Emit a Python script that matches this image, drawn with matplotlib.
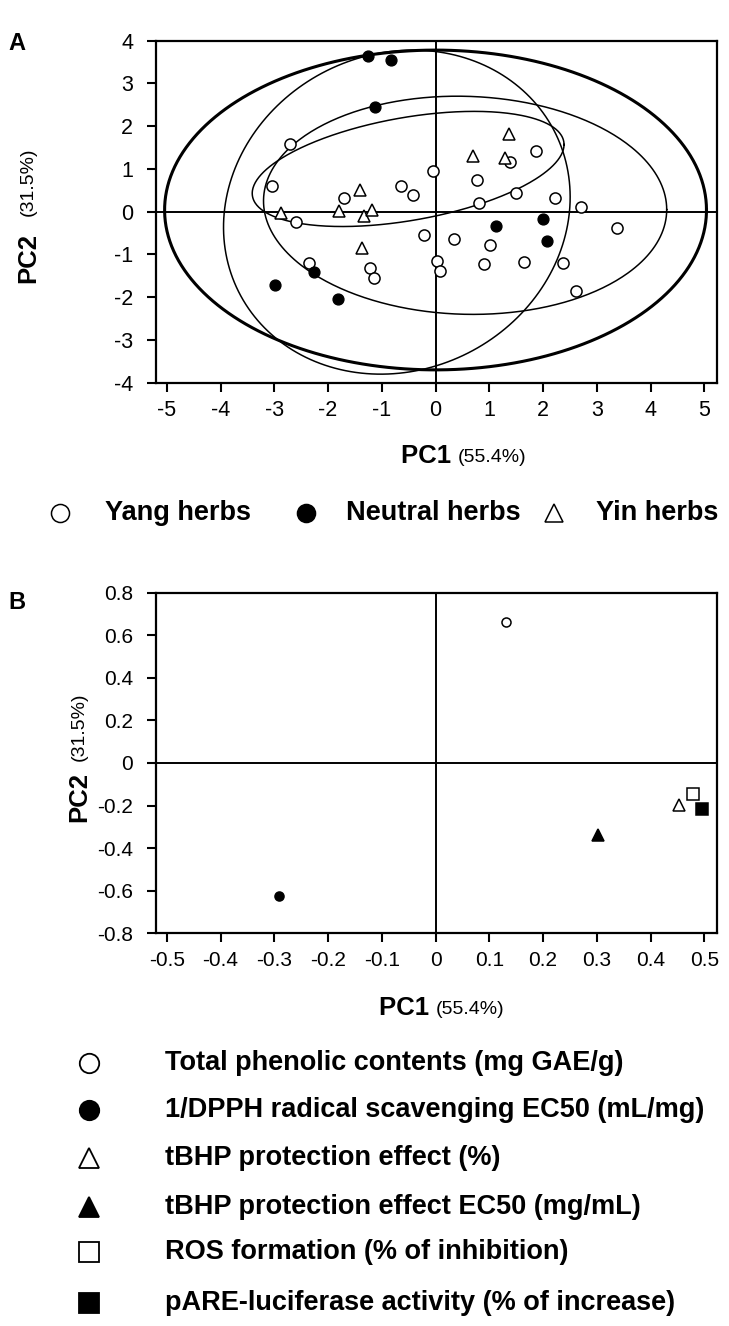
import numpy as np
import matplotlib
matplotlib.use('Agg')
import matplotlib.pyplot as plt
from matplotlib.lines import Line2D

plt.rcParams['font.family'] = ['Liberation Sans', 'DejaVu Sans']
plt.rcParams['axes.unicode_minus'] = False

# ---------------- Panel A data (PC scores) ----------------
yang_pc1 = [-2.70, -3.04, -1.71, -0.64, -0.42, -0.04, -2.60, 1.38, 1.86, 0.78,
            1.49, 0.81, 2.22, 2.71, 3.37, -0.22, 0.35, 1.02, 0.03, 0.08,
            0.91, 1.64, 2.38, 2.62, -2.36, -1.21, -1.15]
yang_pc2 = [1.59, 0.59, 0.32, 0.59, 0.40, 0.96, -0.23, 1.17, 1.43, 0.74,
            0.43, 0.20, 0.31, 0.12, -0.37, -0.54, -0.63, -0.78, -1.15, -1.38,
            -1.23, -1.17, -1.19, -1.85, -1.19, -1.32, -1.56]
neutral_pc1 = [-1.25, -0.82, -1.13, 1.99, 1.12, 2.08, -2.27, -2.99, -1.82]
neutral_pc2 = [3.64, 3.56, 2.46, -0.17, -0.33, -0.68, -1.40, -1.72, -2.05]
yin_pc1 = [-1.41, -2.87, -1.79, -1.34, -1.18, 1.37, 0.70, 1.29, -1.37]
yin_pc2 = [0.51, -0.04, 0.01, -0.09, 0.04, 1.82, 1.31, 1.26, -0.84]

# confidence ellipses: centre x, centre y, half-width, half-height, x-shear, y-shear
ell_cx = [0.00, -0.72, 0.55, -0.51]
ell_cy = [0.04, -0.01, 0.15, 1.00]
ell_a = [5.04, 3.21, 3.75, 2.90]
ell_b = [3.74, 3.79, 2.55, 1.22]
ell_kx = [0.0, 0.30, 0.0, 0.0]
ell_ky = [0.0, 0.0, -0.10, 0.57]
ell_lw = [2.2, 1.1, 1.1, 1.1]

xticks_A = [-5, -4, -3, -2, -1, 0, 1, 2, 3, 4, 5]
yticks_A = [-4, -3, -2, -1, 0, 1, 2, 3, 4]
legend_A = ['Yang herbs', 'Neutral herbs', 'Yin herbs']

# ---------------- Panel B data (loadings) ----------------
var_names = ['Total phenolic contents (mg GAE/g)',
             '1/DPPH radical scavenging EC50 (mL/mg)',
             'tBHP protection effect (%)',
             'tBHP protection effect EC50 (mg/mL)',
             'ROS formation (% of inhibition)',
             'pARE-luciferase activity (% of increase)']
var_pc1 = [0.131, -0.292, 0.452, 0.303, 0.479, 0.496]
var_pc2 = [0.662, -0.627, -0.199, -0.340, -0.144, -0.215]
var_marker = ['o', 'o', '^', '^', 's', 's']
var_face = ['white', 'black', 'white', 'black', 'white', 'black']

xticks_B = [-0.5, -0.4, -0.3, -0.2, -0.1, 0, 0.1, 0.2, 0.3, 0.4, 0.5]
yticks_B = [-0.8, -0.6, -0.4, -0.2, 0, 0.2, 0.4, 0.6, 0.8]


def fmt(v):
    s = f"{v:g}"
    return "0" if s in ("0", "-0") else s


W, H = 729, 1326
fig = plt.figure(figsize=(W / 100, H / 100), dpi=100)


def ax_rect(l, t, r, b):
    return [l / W, 1 - b / H, (r - l) / W, (b - t) / H]


def style(ax, xt, yt, lab_size):
    for s in ax.spines.values():
        s.set_linewidth(1.6)
    ax.set_xticks(xt)
    ax.set_yticks(yt)
    ax.set_xticklabels([fmt(v) for v in xt])
    ax.set_yticklabels([fmt(v) for v in yt])
    ax.tick_params(direction='out', length=6.5, width=1.5, labelsize=lab_size,
                   top=False, right=False)
    ax.tick_params(axis='x', pad=6)
    ax.tick_params(axis='y', pad=10)
    ax.axhline(0, color='black', lw=1.4, zorder=1)
    ax.axvline(0, color='black', lw=1.4, zorder=1)


# ---------------- Panel A ----------------
axA = fig.add_axes(ax_rect(156, 40.7, 716.7, 382.7))
axA.set_xlim(-5.2, 5.23)
axA.set_ylim(-4, 4)
style(axA, xticks_A, yticks_A, 15.5)

t = np.linspace(0, 2 * np.pi, 400)
for cx, cy, a, b, kx, ky, lw in zip(ell_cx, ell_cy, ell_a, ell_b, ell_kx, ell_ky, ell_lw):
    axA.plot(cx + a * np.cos(t) + kx * np.sin(t), cy + b * np.sin(t) + ky * np.cos(t),
             color='black', lw=lw, zorder=2)

axA.plot(yang_pc1, yang_pc2, 'o', ms=8, mfc='white', mec='black', mew=1.1, ls='none', zorder=4)
axA.plot(neutral_pc1, neutral_pc2, 'o', ms=7.8, mfc='black', mec='black', ls='none', zorder=4)
axA.plot(yin_pc1, yin_pc2, '^', ms=8.5, mfc='white', mec='black', mew=1.1, ls='none', zorder=4)

fig.text(458 / W, 1 - 456 / H, 'PC1 ', fontsize=18.5, fontweight='bold', ha='right', va='center')
fig.text(458 / W, 1 - 458 / H, '(55.4%)', fontsize=14, ha='left', va='center')
fig.text(28 / W, 1 - 258 / H, 'PC2', fontsize=18.5, fontweight='bold', rotation=90, ha='center', va='center')
fig.text(28 / W, 1 - 182 / H, '(31.5%)', fontsize=14, rotation=90, ha='center', va='center')
fig.text(16.7 / W, 1 - 44 / H, 'A', fontsize=17, fontweight='bold', ha='center', va='center')

# legend A
leg_y = 1 - 513 / H
legA_mk = [('o', 'white'), ('o', 'black'), ('^', 'white')]
legA_mx = [60, 306, 554]
legA_tx = [105, 346, 596]
for (m, fc), mx, tx, lab in zip(legA_mk, legA_mx, legA_tx, legend_A):
    fig.add_artist(Line2D([mx / W], [leg_y], marker=m, ms=13, mfc=fc, mec='black', mew=1.1,
                          ls='none', transform=fig.transFigure))
    fig.text(tx / W, leg_y, lab, ha='left', va='center', fontsize=19.5, fontweight='bold')

# ---------------- Panel B ----------------
axB = fig.add_axes(ax_rect(156, 592.7, 716.7, 933.3))
axB.set_xlim(-0.52, 0.523)
axB.set_ylim(-0.8, 0.8)
style(axB, xticks_B, yticks_B, 15)

for x, y, m, fc in zip(var_pc1, var_pc2, var_marker, var_face):
    ms = 6.5 if m == 'o' else 8.5
    axB.plot([x], [y], marker=m, ms=ms, mfc=fc, mec='black', mew=1.1, ls='none', zorder=4)

fig.text(436 / W, 1 - 1008 / H, 'PC1 ', fontsize=18.5, fontweight='bold', ha='right', va='center')
fig.text(436 / W, 1 - 1010 / H, '(55.4%)', fontsize=14, ha='left', va='center')
fig.text(79 / W, 1 - 797 / H, 'PC2', fontsize=18.5, fontweight='bold', rotation=90, ha='center', va='center')
fig.text(79 / W, 1 - 727 / H, '(31.5%)', fontsize=14, rotation=90, ha='center', va='center')
fig.text(16.7 / W, 1 - 603 / H, 'B', fontsize=17, fontweight='bold', ha='center', va='center')

legB_y = [1063, 1110, 1158, 1207, 1252, 1303]
for yy, m, fc, lab in zip(legB_y, var_marker, var_face, var_names):
    fig.add_artist(Line2D([89 / W], [1 - yy / H], marker=m, ms=14, mfc=fc, mec='black', mew=1.3,
                          ls='none', transform=fig.transFigure))
    fig.text(165 / W, 1 - yy / H, lab, fontsize=19.5, fontweight='bold', ha='left', va='center')

fig.savefig('out.png', dpi=100)
